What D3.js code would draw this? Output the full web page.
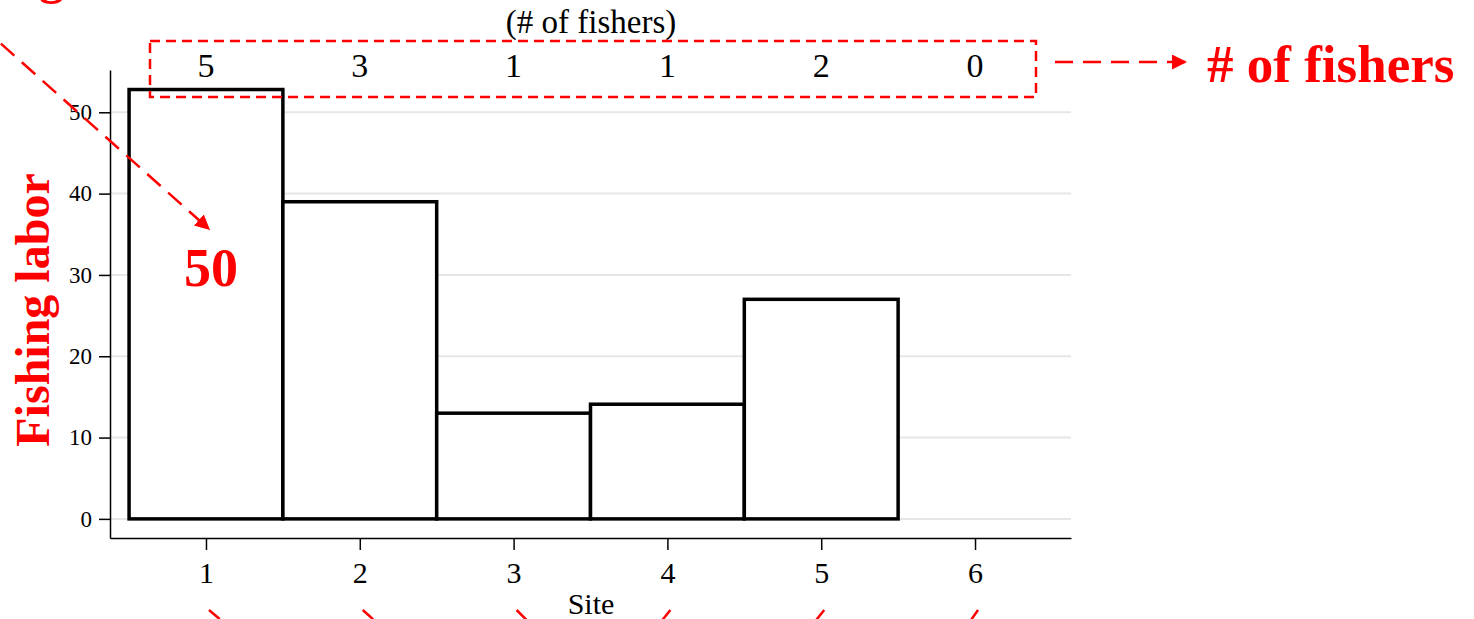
<!DOCTYPE html>
<html><head><meta charset="utf-8">
<script src="https://cdn.jsdelivr.net/npm/d3@7"></script>
<style>html,body{margin:0;padding:0;background:#fff;} svg{display:block}</style>
</head><body>
<script>
const sites = [1, 2, 3, 4, 5, 6];
const labor = [52.8, 39.0, 13.0, 14.1, 27.0, 0];
const fishers = [5, 3, 1, 1, 2, 0];
const yTicks = [0, 10, 20, 30, 40, 50];
const xTickLabels = ["1", "2", "3", "4", "5", "6"];

const W = 1474, H = 619;
const serif = "'Liberation Serif','Times New Roman',serif";
const RED = "#ff0000";
const svg = d3.select("body").append("svg").attr("width", W).attr("height", H);

const x = d3.scaleLinear().domain([0.376, 6.624]).range([110, 1071]);
const y = d3.scaleLinear().domain([-2.35, 55.2]).range([538, 70]);

const defs = svg.append("defs");
defs.append("marker").attr("id", "ah").attr("markerUnits", "userSpaceOnUse")
  .attr("markerWidth", 16).attr("markerHeight", 16).attr("refX", 15).attr("refY", 7.5)
  .attr("orient", "auto").append("path").attr("d", "M0,0 L15,7.5 L0,15 Z").attr("fill", RED);

// gridlines
svg.append("g").selectAll("line").data(yTicks).join("line")
  .attr("x1", x.range()[0]).attr("x2", x.range()[1])
  .attr("y1", d => y(d)).attr("y2", d => y(d))
  .attr("stroke", "#e6e6e6").attr("stroke-width", 2);

// bars
const data = sites.map((s, i) => ({ s, v: labor[i], n: fishers[i] }));
svg.append("g").selectAll("rect").data(data.filter(d => d.v > 0)).join("rect")
  .attr("x", d => x(d.s - 0.5)).attr("width", d => x(d.s + 0.5) - x(d.s - 0.5))
  .attr("y", d => y(d.v)).attr("height", d => y(0) - y(d.v))
  .attr("fill", "#fff").attr("stroke", "#000").attr("stroke-width", 3.5);

// axes
const yAxis = svg.append("g").attr("transform", `translate(${x.range()[0]},0)`)
  .call(d3.axisLeft(y).tickValues(yTicks).tickSize(11).tickSizeOuter(0).tickPadding(7));
yAxis.selectAll("text").attr("font-family", serif).attr("font-size", 23).attr("fill", "#000");
yAxis.selectAll("line, path").attr("stroke", "#000").attr("stroke-width", 1.5);

const xAxis = svg.append("g").attr("transform", `translate(0,${y.range()[0]})`)
  .call(d3.axisBottom(x).tickValues(sites).tickFormat((d, i) => xTickLabels[i]).tickSize(12).tickSizeOuter(0).tickPadding(12));
xAxis.selectAll("text").attr("font-family", serif).attr("font-size", 30).attr("fill", "#000");
xAxis.selectAll("line, path").attr("stroke", "#000").attr("stroke-width", 1.5);

svg.append("text").attr("x", 591).attr("y", 614).attr("text-anchor", "middle")
  .attr("font-family", serif).attr("font-size", 30).text("Site");
svg.append("text").attr("x", 591).attr("y", 33).attr("text-anchor", "middle")
  .attr("font-family", serif).attr("font-size", 33).text("(# of fishers)");

// fisher counts
svg.append("g").selectAll("text").data(data).join("text")
  .attr("x", d => x(d.s)).attr("y", 77).attr("text-anchor", "middle")
  .attr("font-family", serif).attr("font-size", 34).text(d => d.n);

// red annotations
svg.append("rect").attr("x", 150).attr("y", 41).attr("width", 886).attr("height", 56)
  .attr("fill", "none").attr("stroke", RED).attr("stroke-width", 2.5).attr("stroke-dasharray", "10,6");
svg.append("line").attr("x1", 1055).attr("y1", 62).attr("x2", 1187).attr("y2", 62)
  .attr("stroke", RED).attr("stroke-width", 2.5).attr("stroke-dasharray", "18,10").attr("marker-end", "url(#ah)");
svg.append("text").attr("x", 1207).attr("y", 82).attr("font-family", serif).attr("font-weight", "bold")
  .attr("font-size", 53).attr("fill", RED).text("# of fishers");

svg.append("text").attr("transform", "translate(49,310) rotate(-90)").attr("text-anchor", "middle")
  .attr("font-family", serif).attr("font-weight", "bold").attr("font-size", 48).attr("fill", RED).text("Fishing labor");

svg.append("text").attr("x", 64).attr("y", -7).attr("text-anchor", "end")
  .attr("font-family", serif).attr("font-weight", "bold").attr("font-size", 50).attr("fill", RED).text("Fishing");

svg.append("line").attr("x1", -20).attr("y1", 25).attr("x2", 210).attr("y2", 230)
  .attr("stroke", RED).attr("stroke-width", 2.5).attr("stroke-dasharray", "18,10").attr("marker-end", "url(#ah)");
svg.append("text").attr("x", 211).attr("y", 286).attr("text-anchor", "middle")
  .attr("font-family", serif).attr("font-weight", "bold").attr("font-size", 54).attr("fill", RED).text("50");

// bottom dashed pointers (cut off by the frame)
const ptrDir = [[1, 0.85], [1, 0.9], [1, 1], [-0.8, 1], [-0.8, 1], [-0.7, 1]];
svg.append("g").selectAll("line").data(sites).join("line")
  .attr("x1", (d, i) => x(d) + 3).attr("y1", 610)
  .attr("x2", (d, i) => x(d) + 3 + ptrDir[i][0] * 40).attr("y2", (d, i) => 610 + ptrDir[i][1] * 40)
  .attr("stroke", RED).attr("stroke-width", 2.5).attr("stroke-dasharray", "14,8");
</script>
</body></html>
